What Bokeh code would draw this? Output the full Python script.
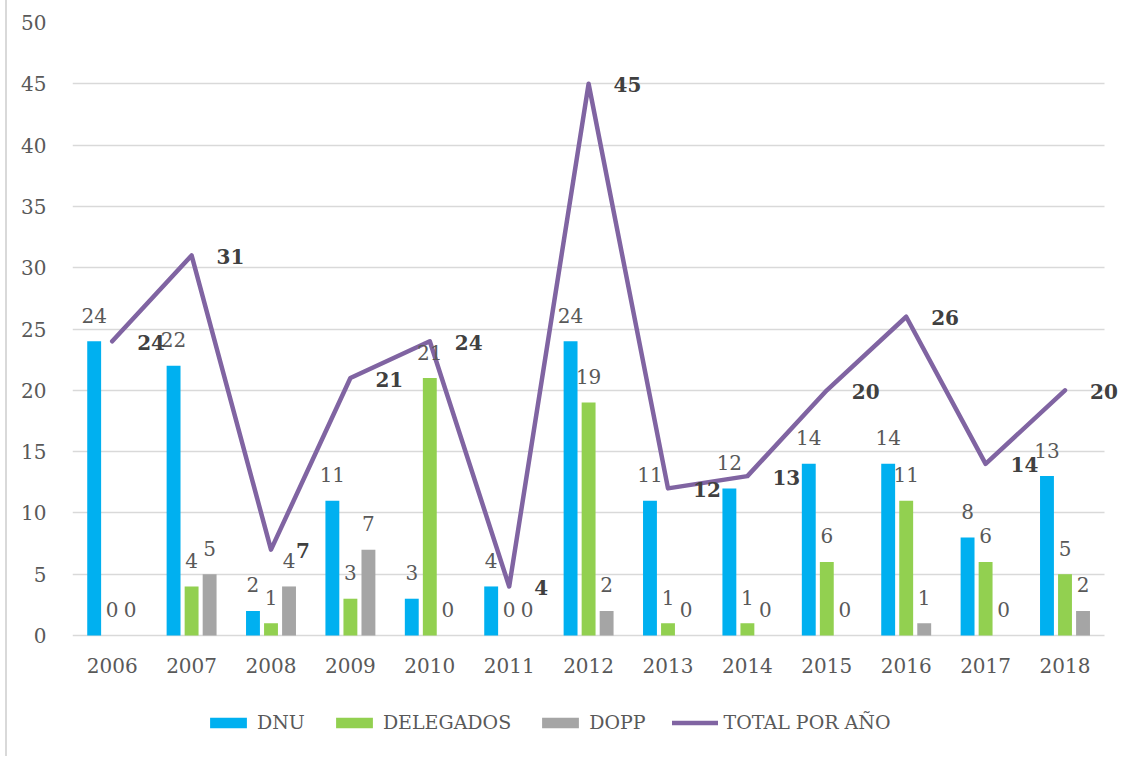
from bokeh.plotting import figure
from bokeh.models import ColumnDataSource, LabelSet, Legend, LegendItem, Range1d
from bokeh.core.properties import value
from bokeh.transform import dodge
from bokeh.embed import file_html
from bokeh.resources import INLINE

years = ["2006", "2007", "2008", "2009", "2010", "2011", "2012",
         "2013", "2014", "2015", "2016", "2017", "2018"]
dnu = [24, 22, 2, 11, 3, 4, 24, 11, 12, 14, 14, 8, 13]
delegados = [0, 4, 1, 3, 21, 0, 19, 1, 1, 6, 11, 6, 5]
dopp = [0, 5, 4, 7, 0, 0, 2, 0, 0, 0, 1, 0, 2]
total = [24, 31, 7, 21, 24, 4, 45, 12, 13, 20, 26, 14, 20]
y_ticks = [0, 5, 10, 15, 20, 25, 30, 35, 40, 45, 50]

C_DNU = "#00B0F0"
C_DEL = "#92D050"
C_DOPP = "#A5A5A5"
C_TOT = "#8064A2"
FONT = "DejaVu Serif"
TXT = "#595959"

idx = list(range(len(years)))
src = ColumnDataSource(dict(
    x=idx, year=years, zero=[0] * len(years),
    dnu=dnu, dele=delegados, dopp=dopp, total=total,
    dnu_t=[str(v) for v in dnu], dele_t=[str(v) for v in delegados],
    dopp_t=[str(v) for v in dopp], total_t=[str(v) for v in total],
))

n = len(years)
PX_X = 79.4    # pixels per category
PX_Y = 12.26   # pixels per unit
W, H = 1123, 756
ML, MT = 65, 22
frame_w = W - ML
frame_h = H - MT
p = figure(x_range=Range1d(-0.5, -0.5 + frame_w / PX_X),
           y_range=Range1d(50 - frame_h / PX_Y, 50),
           width=W, height=H, output_backend="svg", toolbar_location=None,
           x_axis_location=None,
           min_border_left=ML, min_border_top=MT, min_border_right=0, min_border_bottom=0,
           styles={"margin-left": "5px", "border-left": "2px solid #D9D9D9"})
p.outline_line_color = None
p.background_fill_color = "white"

p.xgrid.grid_line_color = None
p.ygrid.grid_line_color = "#D9D9D9"
p.ygrid.grid_line_width = 1.5
p.ygrid.cross_bounds = (-0.5, n - 0.5)

off = 0.227
bw = 0.175
r1 = p.vbar(x=dodge("x", -off), top="dnu", width=bw, source=src,
            fill_color=C_DNU, line_color=None)
r2 = p.vbar(x=dodge("x", 0), top="dele", width=bw, source=src,
            fill_color=C_DEL, line_color=None)
r3 = p.vbar(x=dodge("x", off), top="dopp", width=bw, source=src,
            fill_color=C_DOPP, line_color=None)
r4 = p.line(x="x", y="total", source=src, line_color=C_TOT, line_width=4.5,
            line_join="round", line_cap="round")

for ycol, tcol, dx in [("dnu", "dnu_t", -off), ("dele", "dele_t", 0), ("dopp", "dopp_t", off)]:
    ls = LabelSet(x=dodge("x", dx), y=ycol, text=tcol, source=src,
                  text_align="center", text_baseline="middle", y_offset=26,
                  text_font=value(FONT), text_font_size="20px", text_color=TXT)
    p.add_layout(ls)

lt = LabelSet(x="x", y="total", text="total_t", source=src,
              text_align="left", text_baseline="middle", x_offset=25, y_offset=-1,
              text_font=value(FONT), text_font_size="20px", text_font_style="bold",
              text_color="#404040")
p.add_layout(lt)

# category (year) labels under the baseline
xl = LabelSet(x="x", y="zero", text="year", source=src,
              text_align="center", text_baseline="middle", y_offset=-30,
              text_font=value(FONT), text_font_size="20px", text_color=TXT)
p.add_layout(xl)

p.yaxis.ticker = y_ticks
p.yaxis.axis_line_color = None
p.yaxis.major_tick_line_color = None
p.yaxis.minor_tick_line_color = None
p.yaxis.major_label_standoff = 20
p.yaxis.major_label_text_font = FONT
p.yaxis.major_label_text_font_size = "20px"
p.yaxis.major_label_text_color = TXT

legend = Legend(items=[
    LegendItem(label="DNU", renderers=[r1]),
    LegendItem(label="DELEGADOS", renderers=[r2]),
    LegendItem(label="DOPP", renderers=[r3]),
    LegendItem(label="TOTAL POR AÑO", renderers=[r4]),
], orientation="horizontal", location=(133, 23))
legend.label_text_font = FONT
legend.label_text_font_size = "19px"
legend.label_text_color = TXT
legend.glyph_width = 46
legend.glyph_height = 13
legend.spacing = 26
legend.label_standoff = 6
legend.border_line_color = None
legend.background_fill_alpha = 0
legend.padding = 4
legend.margin = 0
p.add_layout(legend)

open("out.html", "w").write(file_html(p, INLINE))
